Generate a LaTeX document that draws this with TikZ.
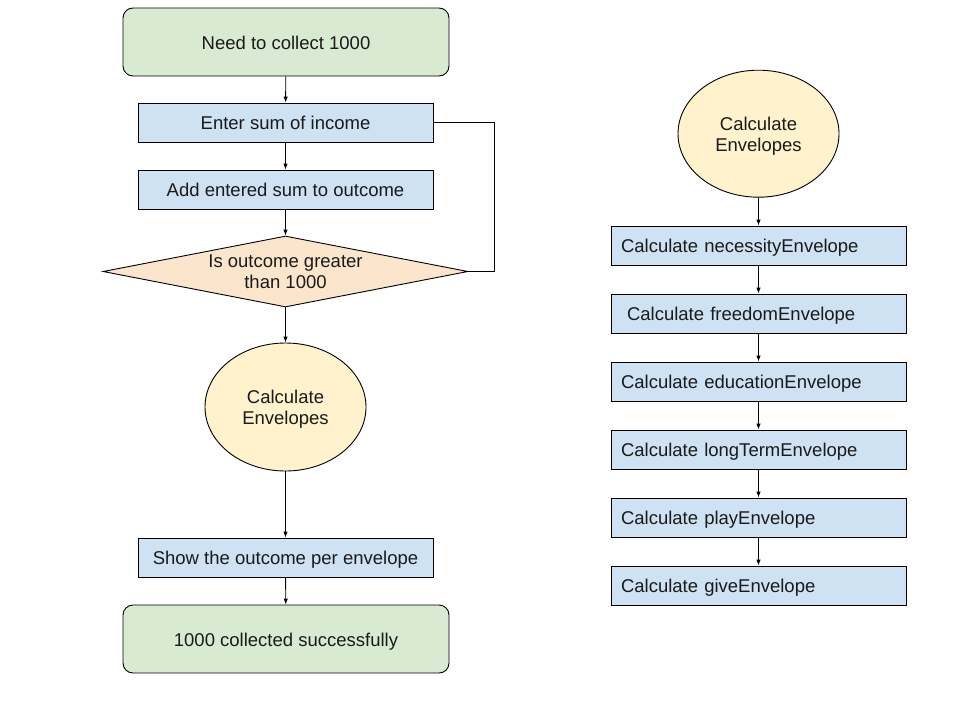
\documentclass[tikz,border=0pt]{standalone}
\usepackage{fontspec}
\setmainfont{Liberation Sans}
\usetikzlibrary{shapes.geometric,arrows.meta}
\definecolor{termfill}{HTML}{D9EAD3}
\definecolor{procfill}{HTML}{CFE2F3}
\definecolor{decfill}{HTML}{FCE5CD}
\definecolor{ellfill}{HTML}{FFF2CC}
\definecolor{txt}{HTML}{1A1A1A}
\tikzset{
  base/.style={draw=black, line width=0.9pt, inner sep=0pt, text=txt,
    font=\fontsize{18.5}{21.2}\selectfont, align=center},
  oneline/.style={text height=14.6pt, text depth=0pt},
  term/.style={base, oneline, fill=termfill, rounded corners=10pt, minimum width=326pt, minimum height=68pt},
  proc/.style={base, oneline, fill=procfill, minimum width=295pt, minimum height=39pt},
  procl/.style={base, oneline, fill=procfill, text width=275pt, inner xsep=10pt, align=left, minimum height=39pt},
  dec/.style={base, fill=decfill, diamond, aspect=5.14, minimum width=365pt, minimum height=71pt,
    font=\fontsize{18.5}{20.8}\selectfont, text height=34.2pt, text depth=-1.6pt},
  ell/.style={base, fill=ellfill, ellipse, minimum width=161pt, minimum height=128pt},
  arr/.style={draw=black, line width=0.9pt, -{Latex[length=6pt,width=4.5pt]}},
  lnk/.style={draw=black, line width=0.9pt}
}
\begin{document}
\begin{tikzpicture}[x=1pt,y=-1pt]
\fill[white] (0,0) rectangle (960,720);
\useasboundingbox (0,0) rectangle (960,720);
% left column
\node[term] (start) at (286,42) {Need to collect 1000};
\node[proc] (enter) at (285.5,122.5) {Enter sum of income};
\node[proc] (add) at (285.5,189.5) {Add entered sum to outcome};
\node[dec] (dec) at (285.5,271.5) {Is outcome greater\\than 1000};
\node[ell, text height=34.7pt, text depth=-0.9pt] (calc) at (285.5,407) {Calculate\\Envelopes};
\node[proc] (show) at (285.5,557.5) {Show the outcome per envelope};
\node[term] (end) at (286,639) {1000 collected successfully};
\coordinate (loop) at (494,271.5);
\draw[arr] (start) -- (enter);
\draw[arr] (enter) -- (add);
\draw[arr] (add) -- (dec);
\draw[arr] (dec) -- (calc);
\draw[arr] (calc) -- (show);
\draw[arr] (show) -- (end);
\draw[lnk] (dec.east) -- (loop) |- (enter.east);
% right column
\node[ell, minimum width=161pt, minimum height=127pt, text height=35pt, text depth=-5.2pt] (rcalc) at (758.5,133.7) {Calculate\\Envelopes};
\node[procl] (r1) at (758.5,245.5) {Calculate necessityEnvelope};
\node[procl] (r2) at (758.5,313.5) {\hspace*{6pt}Calculate freedomEnvelope};
\node[procl] (r3) at (758.5,381.5) {Calculate educationEnvelope};
\node[procl] (r4) at (758.5,449.5) {Calculate longTermEnvelope};
\node[procl] (r5) at (758.5,517.5) {Calculate playEnvelope};
\node[procl] (r6) at (758.5,585.5) {Calculate giveEnvelope};
\draw[arr] (rcalc) -- (r1);
\draw[arr] (r1) -- (r2);
\draw[arr] (r2) -- (r3);
\draw[arr] (r3) -- (r4);
\draw[arr] (r4) -- (r5);
\draw[arr] (r5) -- (r6);
\end{tikzpicture}
\end{document}
